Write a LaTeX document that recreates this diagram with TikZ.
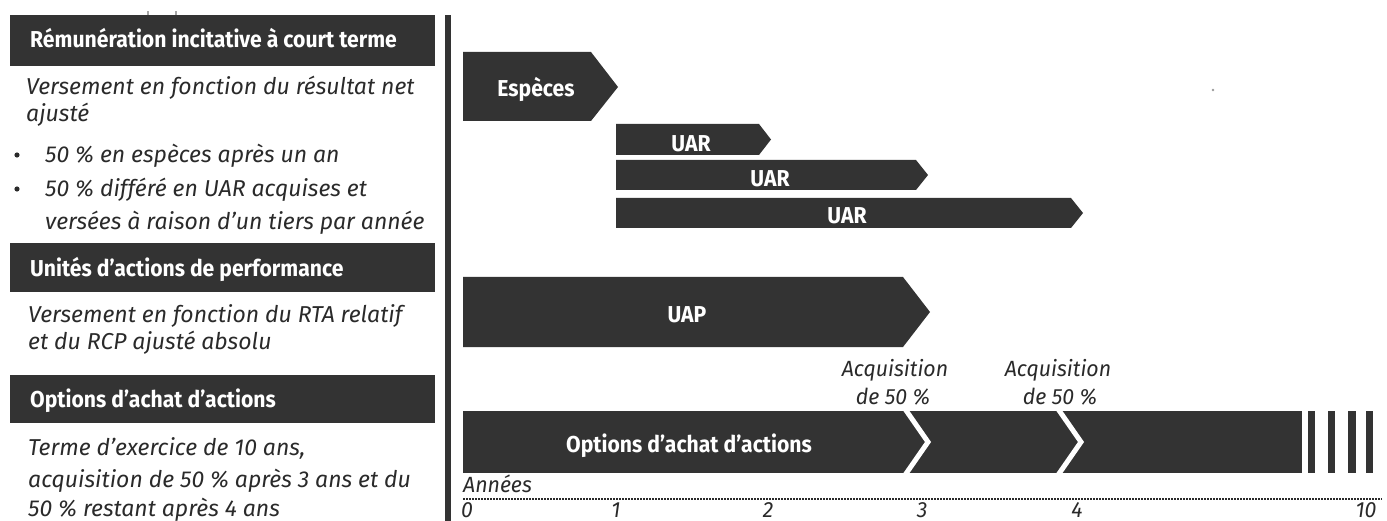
\documentclass[tikz,border=0pt]{standalone}
\usepackage{fontspec}
\setmainfont{Fira Sans}
\newfontfamily\hdfont[FakeStretch=0.92]{Fira Sans}
\newfontfamily\bdfont{Fira Sans}
\newfontfamily\axfont[FakeStretch=0.97]{Fira Sans}
\definecolor{dark}{HTML}{333333}
\definecolor{txt}{HTML}{2A2A2A}
\tikzset{
  bar/.style={fill=dark, draw=none},
  hdtext/.style={text=white, inner sep=0pt, anchor=base west, font=\hdfont\bfseries\fontsize{23}{23}\selectfont},
  bartext/.style={text=white, inner sep=0pt, anchor=base, font=\hdfont\bfseries\fontsize{23}{23}\selectfont},
  bodytext/.style={text=txt, inner sep=0pt, anchor=base west, font=\bdfont\itshape\fontsize{23}{23}\selectfont},
  axtext/.style={text=txt, inner sep=0pt, anchor=base, font=\axfont\itshape\fontsize{22}{22}\selectfont},
  chev/.style={draw=white, line width=5pt, miter limit=10},
}
\begin{document}
\begin{tikzpicture}[x=1pt,y=-1pt]
\useasboundingbox (0,0) rectangle (1387,521);
% tiny marks
\fill[gray!70] (146.5,11) rectangle (148.5,15);
\fill[gray!70] (174.5,11) rectangle (176.5,15);
\fill[gray!80] (1213,90) circle (1.3);
% left headers
\fill[bar] (10,15) rectangle (435,66);
\node[hdtext] (h1) at (30,48) {Rémunération incitative à court terme};
\node[bodytext] (b1a) at (26,95) {Versement en fonction du résultat net};
\node[bodytext] (b1b) at (26,122) {ajusté};
\fill[txt] (17,155) circle (2.6);
\node[bodytext] (b1c) at (45,163) {50 \% en espèces après un an};
\fill[txt] (17,189) circle (2.6);
\node[bodytext] (b1d) at (45,197) {50 \% différé en UAR acquises et};
\node[bodytext] (b1e) at (45,230) {versées à raison d’un tiers par année};
\fill[bar] (10,243) rectangle (435,292);
\node[hdtext] (h2) at (30,277) {Unités d’actions de performance};
\node[bodytext] (b2a) at (28,323) {Versement en fonction du RTA relatif};
\node[bodytext] (b2b) at (28,349) {et du RCP ajusté absolu};
\fill[bar] (10,375) rectangle (435,423);
\node[hdtext] (h3) at (30,407) {Options d’achat d’actions};
\node[bodytext] (b3a) at (28,455) {Terme d’exercice de 10 ans,};
\node[bodytext] (b3b) at (28,487) {acquisition de 50 \% après 3 ans et du};
\node[bodytext] (b3c) at (28,516) {50 \% restant après 4 ans};
% divider
\fill[dark] (445,15) rectangle (451,521);
% Especes
\fill[bar] (463,52) -- (591,52) -- (618,87) -- (591,121) -- (463,121) -- cycle;
\node[bartext] (esp) at (536,97) {Espèces};
% UAR
\fill[bar] (616,124) -- (759,124) -- (771,139.5) -- (759,155) -- (616,155) -- cycle;
\node[bartext] (uar1) at (691,152) {UAR};
\fill[bar] (616,160) -- (916,160) -- (928,175) -- (916,190) -- (616,190) -- cycle;
\node[bartext] (uar2) at (770,187) {UAR};
\fill[bar] (616,198) -- (1071,198) -- (1083,213) -- (1071,228) -- (616,228) -- cycle;
\node[bartext] (uar3) at (847,224) {UAR};
% UAP
\fill[bar] (463,277) -- (903,277) -- (930,312) -- (903,347) -- (463,347) -- cycle;
\node[bartext] (uap) at (687,323) {UAP};
% Options
\fill[bar] (463,411) rectangle (1302,473);
\draw[chev] (903,406) -- (928,442) -- (903,478);
\draw[chev] (1056,406) -- (1081,442) -- (1056,478);
\fill[bar] (1308,411) rectangle (1315,473);
\fill[bar] (1328,411) rectangle (1335,473);
\fill[bar] (1348,411) rectangle (1356,473);
\fill[bar] (1366,411) rectangle (1373,473);
\node[bartext] (opt) at (689,452) {Options d’achat d’actions};
% acquisition labels
\node[axtext] (acq1) at (895,377) {Acquisition};
\node[axtext] (acq1b) at (893,404) {de 50 \%};
\node[axtext] (acq2) at (1058,377) {Acquisition};
\node[axtext] (acq2b) at (1060,404) {de 50 \%};
% axis
\coordinate (ax0) at (463,499);
\coordinate (ax1) at (1382,499);
\draw[txt, line width=2pt, dash pattern=on 1.5pt off 1.5pt] (ax0) -- (ax1);
\node[axtext, anchor=base west] (ann) at (463,492) {Années};
\node[axtext] (y0) at (467,517) {0};
\node[axtext] (y1) at (616,517) {1};
\node[axtext] (y2) at (768,517) {2};
\node[axtext] (y3) at (922,517) {3};
\node[axtext] (y4) at (1077,517) {4};
\node[axtext] (y10) at (1366,517) {10};
\end{tikzpicture}
\end{document}
